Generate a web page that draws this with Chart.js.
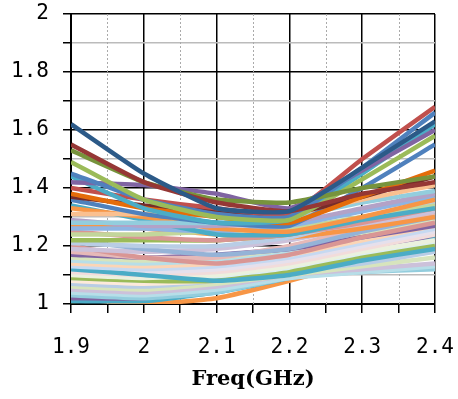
<!DOCTYPE html>
<html>
<head>
<meta charset="utf-8">
<script src="https://cdn.jsdelivr.net/npm/chart.js@4/dist/chart.umd.min.js"></script>
<style>
  html, body { margin: 0; padding: 0; background: #fff; }
  #wrap { width: 458px; height: 399px; }
</style>
</head>
<body>
<div id="wrap"><canvas id="vswr"></canvas></div>
<script>
// frequency points (GHz)
const freqs = [1.9, 2.0, 2.1, 2.2, 2.3, 2.4];

// VSWR curves, values at each frequency
const upperCurves = [
  [1.62, 1.45, 1.33, 1.32, 1.47, 1.63],
  [1.55, 1.42, 1.35, 1.32, 1.38, 1.42],
  [1.53, 1.42, 1.36, 1.35, 1.40, 1.44],
  [1.49, 1.36, 1.30, 1.29, 1.43, 1.58],
  [1.45, 1.36, 1.31, 1.30, 1.47, 1.66],
  [1.42, 1.41, 1.38, 1.33, 1.46, 1.60],
  [1.44, 1.33, 1.28, 1.29, 1.45, 1.62],
  [1.40, 1.36, 1.33, 1.31, 1.50, 1.68],
  [1.38, 1.33, 1.30, 1.28, 1.37, 1.46],
  [1.37, 1.34, 1.32, 1.31, 1.37, 1.44],
  [1.36, 1.31, 1.28, 1.27, 1.40, 1.55]
];
const upperColors = ['#2c5a88', '#953735', '#77933c', '#9bbb59', '#4f81bd', '#8064a2',
  '#4bacc6', '#c0504d', '#e46c0a', '#772c2a', '#4f81bd'];

const lowerCurves = [
  [1.31, 1.31, 1.31, 1.31, 1.36, 1.41],
  [1.28, 1.28, 1.28, 1.30, 1.35, 1.39],
  [1.29, 1.27, 1.27, 1.28, 1.33, 1.38],
  [1.33, 1.30, 1.26, 1.25, 1.30, 1.36],
  [1.34, 1.29, 1.24, 1.24, 1.29, 1.33],
  [1.26, 1.26, 1.25, 1.27, 1.32, 1.37],
  [1.24, 1.24, 1.25, 1.26, 1.30, 1.34],
  [1.25, 1.23, 1.22, 1.24, 1.28, 1.33],
  [1.22, 1.22, 1.22, 1.24, 1.29, 1.33],
  [1.21, 1.20, 1.20, 1.23, 1.29, 1.35],
  [1.27, 1.26, 1.24, 1.23, 1.26, 1.30],
  [1.22, 1.19, 1.17, 1.19, 1.25, 1.30],
  [1.19, 1.18, 1.19, 1.22, 1.27, 1.32],
  [1.20, 1.16, 1.14, 1.17, 1.23, 1.28],
  [1.18, 1.16, 1.16, 1.20, 1.26, 1.31],
  [1.17, 1.16, 1.17, 1.19, 1.23, 1.27],
  [1.16, 1.15, 1.16, 1.19, 1.24, 1.29],
  [1.15, 1.14, 1.15, 1.18, 1.23, 1.28],
  [1.14, 1.13, 1.14, 1.17, 1.22, 1.27],
  [1.13, 1.12, 1.13, 1.16, 1.21, 1.26],
  [1.12, 1.10, 1.08, 1.10, 1.15, 1.19],
  [1.12, 1.11, 1.12, 1.15, 1.20, 1.25],
  [1.11, 1.10, 1.11, 1.14, 1.19, 1.24],
  [1.10, 1.09, 1.10, 1.13, 1.18, 1.22],
  [1.09, 1.08, 1.08, 1.11, 1.16, 1.20],
  [1.09, 1.08, 1.09, 1.12, 1.17, 1.21],
  [1.08, 1.07, 1.08, 1.11, 1.16, 1.20],
  [1.07, 1.06, 1.08, 1.11, 1.14, 1.18],
  [1.06, 1.05, 1.07, 1.10, 1.13, 1.16],
  [1.05, 1.04, 1.06, 1.10, 1.12, 1.14],
  [1.04, 1.03, 1.05, 1.09, 1.11, 1.13],
  [1.03, 1.02, 1.04, 1.09, 1.11, 1.12],
  [1.02, 1.02, 1.05, 1.10, 1.17, 1.24],
  [1.01, 1.01, 1.04, 1.09, 1.16, 1.23],
  [1.02, 1.00, 1.02, 1.08, 1.15, 1.22],
  [1.01, 1.02, 1.06, 1.11, 1.18, 1.25]
];
const lowerColors = ['#fac090', '#93cddd', '#b3a2c7', '#f79646', '#4bacc6', '#8eb4e3',
  '#c3d69b', '#d99694', '#9bbb59', '#b9cde5', '#f79646', '#95b3d7', '#ccc1da', '#d99694',
  '#e6b9b8', '#8064a2', '#d7e4bd', '#b7dee8', '#fcd5b5', '#c6d9f1', '#4bacc6', '#e6e0ec',
  '#f2dcdb', '#ebf1de', '#9bbb59', '#dbeef4', '#fdeada', '#b9cde5', '#d7e4bd', '#ccc1da',
  '#b7dee8', '#93cddd', '#8064a2', '#4bacc6', '#f79646', '#9bbb59'];

const xMin = 1.9, xMax = 2.4, xStep = 0.05;
const yMin = 1, yMax = 2, yStep = 0.1;

const isMulti = (v, step) => Math.abs(Math.round(v / step) * step - v) < 1e-6;

const makeSet = (vals, color) => ({
  data: vals.map((v, i) => ({ x: freqs[i], y: v })),
  borderColor: color,
  borderWidth: 4.5,
  pointRadius: 0,
  tension: 0.15,
  fill: false
});

const datasets = upperCurves.map((c, i) => makeSet(c, upperColors[i]))
  .concat(lowerCurves.map((c, i) => makeSet(c, lowerColors[i])));

// dotted vertical lines at the half steps
const minorDots = {
  id: 'minorDots',
  beforeDatasetsDraw(chart) {
    const { ctx, chartArea, scales } = chart;
    ctx.save();
    ctx.strokeStyle = '#aaa';
    ctx.lineWidth = 1;
    ctx.setLineDash([2, 2]);
    scales.x.ticks.forEach(t => {
      if (isMulti(t.value, 0.1)) return;
      const px = Math.round(scales.x.getPixelForValue(t.value)) + 0.5;
      ctx.beginPath();
      ctx.moveTo(px, chartArea.top);
      ctx.lineTo(px, chartArea.bottom);
      ctx.stroke();
    });
    ctx.restore();
  }
};

const tickFont = { family: 'DejaVu Sans Mono', size: 21 };

new Chart(document.getElementById('vswr'), {
  type: 'line',
  data: { datasets },
  plugins: [minorDots],
  options: {
    responsive: true,
    maintainAspectRatio: false,
    animation: false,
    layout: { padding: { left: 0, top: 14, right: 23, bottom: 0 } },
    plugins: { legend: { display: false }, tooltip: { enabled: false } },
    scales: {
      x: {
        type: 'linear',
        min: xMin,
        max: xMax,
        afterFit: s => { s.height = 95; s.paddingLeft = 0; s.paddingRight = 0; },
        ticks: {
          stepSize: xStep,
          autoSkip: false,
          maxRotation: 0,
          padding: 22,
          color: '#000',
          font: tickFont,
          callback: v => isMulti(v, 0.1) ? String(parseFloat(v.toFixed(1))) : ''
        },
        grid: {
          color: c => isMulti(c.tick.value, 0.1) ? '#000' : 'rgba(0,0,0,0)',
          lineWidth: 1.5,
          tickColor: '#000',
          tickLength: 9,
          tickWidth: 1.5
        },
        border: { color: '#000', width: 2 },
        title: {
          display: true,
          text: 'Freq(GHz)',
          color: '#000',
          font: { family: 'DejaVu Serif', size: 21, weight: 'bold' },
          padding: { top: 0, bottom: 7 }
        }
      },
      y: {
        min: yMin,
        max: yMax,
        afterFit: s => { s.width = 71; s.paddingTop = 0; s.paddingBottom = 0; },
        ticks: {
          stepSize: yStep,
          autoSkip: false,
          padding: 14,
          color: '#000',
          font: tickFont,
          callback: v => isMulti(v, 0.2) ? String(parseFloat(v.toFixed(1))) : ''
        },
        grid: {
          color: c => isMulti(c.tick.value, 0.2) ? '#000' : '#bbb',
          lineWidth: 1.5,
          tickColor: '#000',
          tickLength: 8,
          tickWidth: 1.5
        },
        border: { color: '#000', width: 2 }
      }
    }
  }
});
</script>
</body>
</html>
